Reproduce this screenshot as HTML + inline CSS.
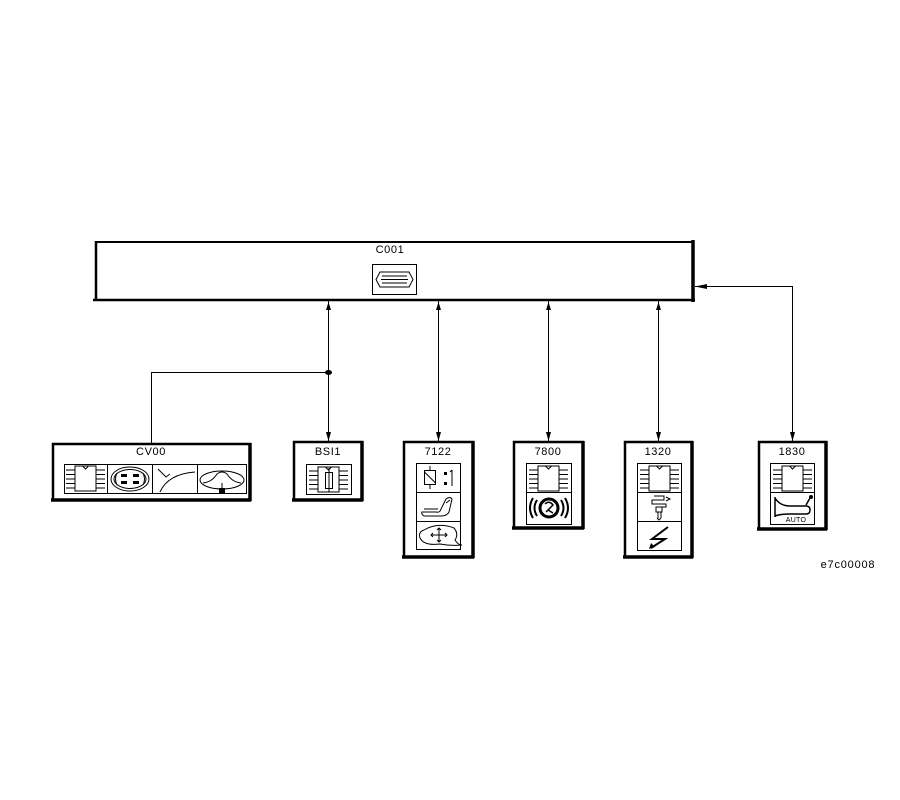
<!DOCTYPE html>
<html><head><meta charset="utf-8"><style>
html,body{margin:0;padding:0;background:#fff;}
svg{display:block;}
text{font-family:"Liberation Sans",sans-serif;font-size:11px;fill:#000;letter-spacing:0.6px;}
</style></head><body>
<svg width="900" height="800" viewBox="0 0 900 800" xmlns="http://www.w3.org/2000/svg">
<defs>
<g id="chip" fill="none" stroke="#000" stroke-width="1">
<rect x="12" y="2" width="21" height="25"/>
<path d="M19.5,2 L22.5,5 L25.5,2"/>
<path d="M3,6H12M3,10.5H12M3,15H12M3,19.5H12M3,24H12"/>
<path d="M33,6H42M33,10.5H42M33,15H42M33,19.5H42M33,24H42"/>
</g>
<g id="up"><polygon points="0,0 -2.5,8 2.5,8" fill="#000"/></g>
<g id="down"><polygon points="0,0 -2.5,-9 2.5,-9" fill="#000"/></g>
</defs>

<!-- main box C001 -->
<g stroke="#000" fill="none">
<line x1="95" y1="242" x2="694" y2="242" stroke-width="2"/>
<line x1="96" y1="241" x2="96" y2="301" stroke-width="2.5"/>
<line x1="93" y1="300" x2="695" y2="300" stroke-width="2.5"/>
<line x1="693" y1="240" x2="693" y2="302" stroke-width="3.5"/>
<rect x="372.5" y="264.5" width="44" height="30" stroke-width="1"/>
<polygon points="380,272 409,272 413,279.5 409,287 380,287 376,279.5" stroke-width="1"/>
<path d="M382,276H407M381,279.5H408M382,283H407" stroke-width="1"/>
</g>
<text x="390" y="253" text-anchor="middle">C001</text>

<!-- connectors -->
<g stroke="#000" stroke-width="1" fill="none">
<line x1="328.5" y1="300" x2="328.5" y2="442"/>
<line x1="438.5" y1="300" x2="438.5" y2="442"/>
<line x1="548.5" y1="300" x2="548.5" y2="442"/>
<line x1="658.5" y1="300" x2="658.5" y2="442"/>
<polyline points="695,286.5 792.5,286.5 792.5,442"/>
<polyline points="328,372.5 151.5,372.5 151.5,444"/>
</g>
<ellipse cx="328.5" cy="372.5" rx="3.5" ry="2.5" fill="#000"/>
<use href="#up" x="328.5" y="302"/><use href="#down" x="328.5" y="441"/>
<use href="#up" x="438.5" y="302"/><use href="#down" x="438.5" y="441"/>
<use href="#up" x="548.5" y="302"/><use href="#down" x="548.5" y="441"/>
<use href="#up" x="658.5" y="302"/><use href="#down" x="658.5" y="441"/>
<use href="#down" x="792.5" y="441"/>
<polygon points="695,286.5 707,284 707,289" fill="#000"/>

<!-- CV00 -->
<g stroke="#000" fill="none">
<rect x="53" y="444" width="197" height="56" stroke-width="2.5"/>
<line x1="250" y1="443" x2="250" y2="501" stroke-width="3.5"/>
<line x1="51" y1="500" x2="251" y2="500" stroke-width="3.5"/>
<rect x="64.5" y="464.5" width="182" height="29" stroke-width="1"/>
<path d="M107.5,464V494M152.5,464V494M197.5,464V494" stroke-width="1"/>
</g>
<text x="151" y="455" text-anchor="middle">CV00</text>
<use href="#chip" x="63" y="464"/>
<g stroke="#000" fill="none" stroke-width="1">
<ellipse cx="130" cy="479" rx="19" ry="12"/>
<ellipse cx="130" cy="479" rx="16" ry="9.5"/>
<path d="M117,473 Q114,479 117,485 M143,473 Q146,479 143,485"/>
<path d="M158,469 L166,477 L170,474 M160,492 Q168,474 195,472"/>
<ellipse cx="222" cy="480" rx="22" ry="9"/>
<path d="M203,483 Q212,482 217,474 Q222,470 227,474 Q232,482 241,483"/>
<path d="M222,483V492"/>
</g>
<g fill="#000">
<rect x="121" y="474" width="6" height="3"/><rect x="133" y="474" width="6" height="3"/>
<rect x="121" y="481" width="6" height="3"/><rect x="133" y="481" width="6" height="3"/>
<rect x="219" y="488" width="6" height="5"/>
</g>

<!-- BSI1 -->
<g stroke="#000" fill="none">
<rect x="294" y="442" width="68" height="58" stroke-width="2.5"/>
<line x1="362" y1="441" x2="362" y2="501" stroke-width="3.5"/>
<line x1="292" y1="500" x2="363" y2="500" stroke-width="3.5"/>
<rect x="306.5" y="464.5" width="45" height="30" stroke-width="1"/>
</g>
<text x="328" y="455" text-anchor="middle">BSI1</text>
<use href="#chip" x="306" y="465"/>
<g stroke="#000" fill="none" stroke-width="1">
<rect x="325.5" y="472.5" width="7" height="16"/>
<path d="M329,468V492"/>
</g>

<!-- 7122 -->
<g stroke="#000" fill="none">
<rect x="404" y="442" width="69" height="115" stroke-width="2.5"/>
<line x1="473" y1="441" x2="473" y2="558" stroke-width="3.5"/>
<line x1="402" y1="557" x2="474" y2="557" stroke-width="3.5"/>
<rect x="416.5" y="463.5" width="44" height="86" stroke-width="1"/>
<path d="M416,492.5H461M416,521.5H461" stroke-width="1"/>
</g>
<text x="438" y="455" text-anchor="middle">7122</text>
<g stroke="#000" fill="none" stroke-width="1">
<rect x="424.5" y="470.5" width="11" height="14"/>
<path d="M424.5,472 L435.5,483 M430,466V470 M430,485V489"/>
<path d="M452,470V486 M450,472L452,470"/>
<path d="M422,512 L436,512 Q440,513 441,509 L446,499 Q450,496 452,499 L449,512 Q447,516 441,516 L424,516 Q421,514 422,512 Z"/>
<path d="M424,509H438 M446,503 L450,500"/>
<path d="M424,530 Q438,522 454,528 Q459,534 455,540 Q458,545 462,545 Q450,546 440,544 Q424,546 420,538 Q418,532 424,530 Z"/>
<path d="M431,535H447 M439,528V542 M433,533L431,535L433,537 M445,533L447,535L445,537 M437,530L439,528L441,530 M437,540L439,542L441,540"/>
</g>
<rect x="444" y="472" width="3" height="3" fill="#000"/>
<rect x="444" y="482" width="3" height="3" fill="#000"/>

<!-- 7800 -->
<g stroke="#000" fill="none">
<rect x="514" y="442" width="69" height="86" stroke-width="2.5"/>
<line x1="583" y1="441" x2="583" y2="529" stroke-width="3.5"/>
<line x1="512" y1="528" x2="584" y2="528" stroke-width="3.5"/>
<rect x="526.5" y="463.5" width="45" height="61" stroke-width="1"/>
<path d="M526,492.5H572" stroke-width="1"/>
</g>
<text x="548" y="455" text-anchor="middle">7800</text>
<use href="#chip" x="526" y="464"/>
<g stroke="#000" fill="none">
<circle cx="549" cy="508" r="9" stroke-width="3"/>
<path d="M537,500 Q532,508 537,516 M533,498 Q527,508 533,518 M561,500 Q566,508 561,516 M565,498 Q571,508 565,518" stroke-width="2"/>
<path d="M545,504 Q549,500 553,505 Q549,509 546,512 M548,510 L553,513" stroke-width="1.5"/>
</g>

<!-- 1320 -->
<g stroke="#000" fill="none">
<rect x="625" y="442" width="67" height="115" stroke-width="2.5"/>
<line x1="692" y1="441" x2="692" y2="558" stroke-width="3.5"/>
<line x1="623" y1="557" x2="693" y2="557" stroke-width="3.5"/>
<rect x="637.5" y="463.5" width="44" height="87" stroke-width="1"/>
<path d="M637,492.5H682M637,521.5H682" stroke-width="1"/>
</g>
<text x="658" y="455" text-anchor="middle">1320</text>
<use href="#chip" x="637" y="464"/>
<g stroke="#000" fill="none" stroke-width="1">
<path d="M654,496H664V500H652V504H666V507H656V512H662V507 M658,512V518 M661,512V518"/>
<path d="M666,497L670,499L666,501"/>
<path d="M657,518 L659,520 L661,518"/>
</g>
<path d="M668,527 L652,539 L665,539 L651,548" stroke="#000" stroke-width="2" fill="none" stroke-linejoin="miter"/>
<polygon points="649,549 651,543 655,547" fill="#000"/>

<!-- 1830 -->
<g stroke="#000" fill="none">
<rect x="759" y="442" width="67" height="87" stroke-width="2.5"/>
<line x1="826" y1="441" x2="826" y2="530" stroke-width="3.5"/>
<line x1="757" y1="529" x2="827" y2="529" stroke-width="3.5"/>
<rect x="770.5" y="463.5" width="44" height="61" stroke-width="1"/>
<path d="M770,492.5H815" stroke-width="1"/>
</g>
<text x="792" y="455" text-anchor="middle">1830</text>
<use href="#chip" x="770" y="464"/>
<g stroke="#000" fill="none" stroke-width="1.5">
<path d="M775,497V517 M775,498 Q780,506 790,506 L806,506 Q810,506 810,510 Q810,514 806,514 L790,514 Q780,514 775,516"/>
<path d="M806,505 L810,498"/>
</g>
<circle cx="811" cy="497" r="2" fill="#000"/>
<text x="796" y="522" text-anchor="middle" style="font-size:7px;letter-spacing:0.3px">AUTO</text>

<text x="848" y="568" text-anchor="middle" style="font-size:11px;letter-spacing:0.8px">e7c00008</text>
</svg>
</body></html>
